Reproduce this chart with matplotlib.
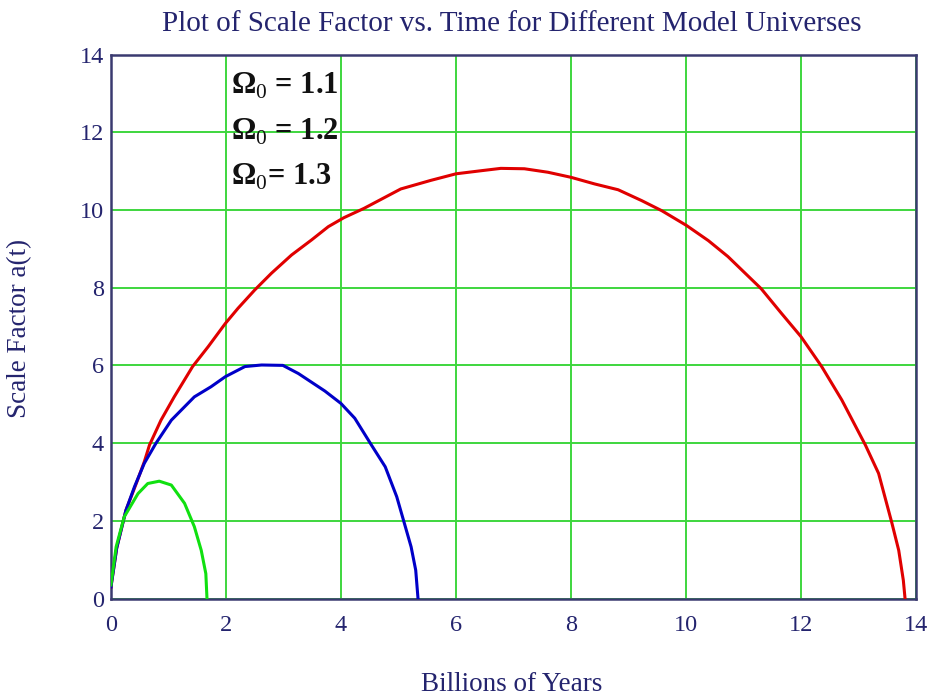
import numpy as np
import matplotlib.pyplot as plt

# values (billions of years, scale factor)
t_red = [0.0, 0.1, 0.26, 0.44, 0.58, 0.67, 0.87, 1.1, 1.42, 1.69, 1.99, 2.21, 2.5,
         2.79, 3.14, 3.49, 3.78, 4.05, 4.4, 5.04, 5.56, 6.0, 6.44, 6.78, 7.19, 7.6,
         8.0, 8.41, 8.82, 9.23, 9.58, 10.01, 10.39, 10.73, 11.31, 11.66, 12.0, 12.36,
         12.71, 13.12, 13.35, 13.58, 13.7, 13.78, 13.81]
a_red = [0.3, 1.3, 2.27, 2.96, 3.52, 3.95, 4.59, 5.19, 5.97, 6.48, 7.08, 7.47, 7.94,
         8.37, 8.84, 9.23, 9.57, 9.8, 10.04, 10.54, 10.76, 10.93, 11.01, 11.07, 11.06, 10.97,
         10.84, 10.67, 10.52, 10.24, 9.98, 9.6, 9.21, 8.8, 7.97, 7.34, 6.74, 5.97,
         5.11, 3.95, 3.22, 1.95, 1.24, 0.47, 0.0]

t_blue = [0.0, 0.1, 0.26, 0.41, 0.58, 0.78, 1.05, 1.45, 1.74, 1.99, 2.33, 2.62, 2.99,
          3.26, 3.72, 4.0, 4.24, 4.53, 4.77, 4.97, 5.1, 5.22, 5.3, 5.34]
a_blue = [0.3, 1.3, 2.27, 2.88, 3.48, 3.99, 4.59, 5.19, 5.45, 5.71, 5.97, 6.01, 6.0,
          5.79, 5.34, 5.02, 4.64, 3.95, 3.39, 2.62, 1.95, 1.33, 0.73, 0.0]

t_green = [0.0, 0.09, 0.23, 0.47, 0.64, 0.84, 1.05, 1.28, 1.45, 1.57, 1.65, 1.67]
a_green = [0.35, 1.33, 2.1, 2.7, 2.96, 3.02, 2.92, 2.45, 1.85, 1.24, 0.64, 0.0]

omegas = ['1.1', '1.2', '1.3']
x_ticks = [0, 2, 4, 6, 8, 10, 12, 14]
y_ticks = [0, 2, 4, 6, 8, 10, 12, 14]

plt.rcParams['mathtext.fontset'] = 'custom'
plt.rcParams['mathtext.rm'] = 'Liberation Serif'
plt.rcParams['mathtext.bf'] = 'Liberation Serif:bold'
plt.rcParams['font.family'] = 'Liberation Serif'

navy = '#24246e'
fig = plt.figure(figsize=(9.34, 6.98), dpi=100)
ax = fig.add_axes([0.1188, 0.1425, 0.9807 - 0.1188, 0.9219 - 0.1425])

for t, a, c in [(t_red, a_red, '#e00000'), (t_blue, a_blue, '#0000c8'),
                (t_green, a_green, '#10e010')]:
    ax.plot(t, a, color=c, lw=2.2, zorder=3, solid_joinstyle='round')

ax.set_xlim(0, 14)
ax.set_ylim(0, 14)
ax.set_xticks(x_ticks)
ax.set_yticks(y_ticks)
ax.grid(True, color='#3ed63e', lw=1.4, zorder=1)
ax.set_axisbelow(True)
for s in ax.spines.values():
    s.set_color('#3a3a70')
    s.set_linewidth(1.8)
ax.tick_params(length=0, labelsize=17.5, labelcolor=navy)
ax.tick_params(axis='x', pad=12)
ax.tick_params(axis='y', pad=5)

fig.text(0.548, 0.966, 'Plot of Scale Factor vs. Time for Different Model Universes',
         ha='center', va='center', fontsize=21, color=navy)
fig.text(0.548, 0.019, 'Billions of Years', ha='center', va='center',
         fontsize=19.5, color=navy)
fig.text(0.021, 0.53, 'Scale Factor a(t)', ha='center', va='center',
         rotation=90, fontsize=19.5, color=navy)

for i, om in enumerate(omegas):
    sep = ' = ' if i < 2 else '= '
    fig.text(0.247, 1 - (86 + i * 45.5) / 698,
             r'$\mathbf{\Omega}_{\mathrm{0}}$' + sep + om,
             ha='left', va='center', fontsize=22, fontweight='bold', color='#111111')

fig.savefig('out.png', dpi=100)
